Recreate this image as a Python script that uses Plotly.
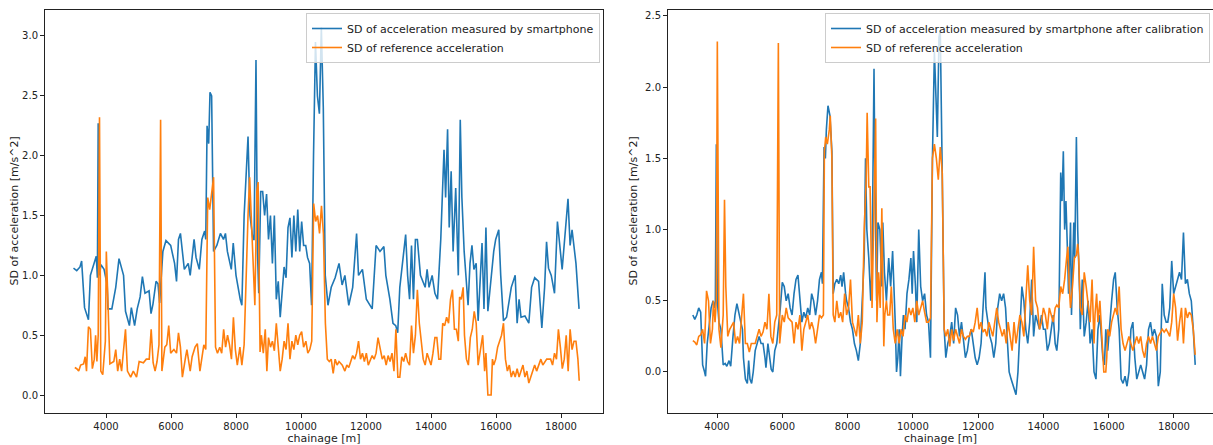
import plotly.graph_objects as go

# ---------------- Left panel data ----------------
left_phone_chainage = [
    3000, 3100, 3200, 3250, 3340, 3460, 3520, 3600, 3700, 3735,
    3760, 3800, 3843, 3940, 4036, 4060, 4180, 4300, 4400, 4540,
    4600, 4720, 4780, 4880, 4960, 5050, 5120, 5200, 5325, 5385,
    5445, 5540, 5600, 5650, 5750, 5845, 5990, 6110, 6170, 6230,
    6290, 6410, 6530, 6590, 6710, 6770, 6870, 6950, 7035, 7070,
    7110, 7160, 7200, 7250, 7310, 7410, 7520, 7615, 7675, 7735,
    7855, 7915, 8000, 8130, 8180, 8250, 8310, 8370, 8430, 8520,
    8555, 8615, 8660, 8700, 8760, 8820, 8880, 8940, 9000, 9060,
    9120, 9180, 9240, 9300, 9360, 9420, 9480, 9540, 9600, 9660,
    9720, 9780, 9840, 9900, 9960, 10020, 10080, 10145, 10200, 10265,
    10325, 10385, 10445, 10505, 10566, 10626, 10686, 10746, 10830, 10930,
    11050, 11170, 11265, 11350, 11470, 11590, 11710, 11770, 11890, 12010,
    12190, 12310, 12430, 12550, 12610, 12735, 12830, 12915, 12975, 13040,
    13160, 13220, 13280, 13340, 13400, 13460, 13520, 13580, 13675, 13760,
    13820, 13880, 13940, 14035, 14120, 14200, 14300, 14400, 14450, 14510,
    14560, 14620, 14680, 14760, 14840, 14900, 14950, 15020, 15080, 15140,
    15200, 15260, 15320, 15390, 15450, 15570, 15630, 15690, 15750, 15870,
    15930, 15990, 16085, 16145, 16230, 16325, 16470, 16590, 16650, 16710,
    16770, 16890, 17010, 17095, 17190, 17310, 17410, 17495, 17555, 17615,
    17700, 17800, 17855, 17890, 18035, 18130, 18215, 18280, 18340, 18460,
    18555,
]
left_phone_sd = [
    1.06, 1.04, 1.07, 1.12, 0.73, 0.63, 1.0, 1.08, 1.16, 0.98,
    2.27, 1.0, 1.09, 1.05, 0.92, 0.72, 0.72, 0.9, 1.14, 1.0,
    0.7, 0.58, 0.73, 0.58, 0.72, 0.82, 0.99, 0.85, 0.87, 0.68,
    0.76, 0.95, 0.93, 0.77, 1.2, 1.29, 1.25, 1.1, 0.95, 1.3,
    1.35, 1.05, 1.1, 1.0, 1.3, 1.15, 1.05, 1.3, 1.37, 1.3,
    2.25, 2.1, 2.53, 2.5, 1.2, 1.25, 1.35, 1.3, 1.35, 1.2,
    1.05, 1.27, 1.0, 0.8, 0.75, 1.5, 1.8, 2.16, 1.5, 1.3,
    1.3, 2.8, 1.2, 0.85, 1.7, 1.7, 1.5, 1.68, 1.3, 1.5,
    1.1, 1.5, 0.8, 0.95, 0.65, 0.9, 1.07, 0.98, 1.4, 1.48,
    1.15, 1.5, 1.2, 1.55, 1.2, 1.45, 1.25, 1.25, 1.15, 1.1,
    0.75, 2.0, 2.95, 2.5, 2.35, 3.07, 2.4, 1.0, 0.75, 0.9,
    0.98, 1.1, 0.92, 1.0, 0.75, 0.9, 1.35, 1.0, 1.05, 0.8,
    0.72, 1.25, 1.2, 1.24, 1.0, 0.8, 0.6, 0.58, 0.52, 0.9,
    1.2, 1.34, 1.0, 0.8, 1.25, 0.8, 1.3, 1.3, 1.0, 0.95,
    0.9, 1.05, 0.9, 1.0, 0.85, 0.8, 1.3, 2.05, 1.65, 2.22,
    1.4, 1.87, 1.2, 1.73, 1.0, 2.3, 1.65, 1.2, 1.0, 0.75,
    1.1, 1.25, 1.05, 1.1, 0.62, 1.27, 0.72, 1.4, 0.7, 1.07,
    1.2, 1.3, 1.38, 1.0, 0.62, 0.65, 0.9, 1.0, 0.6, 0.8,
    0.65, 0.66, 0.6, 0.9, 0.98, 0.95, 0.56, 0.9, 1.28, 1.06,
    1.0, 0.85, 1.3, 1.45, 1.05, 1.35, 1.64, 1.25, 1.38, 1.1,
    0.72,
]

left_ref_chainage = [
    3040, 3100, 3160, 3220, 3310, 3360, 3400, 3460, 3520, 3580,
    3640, 3680, 3720, 3760, 3800, 3840, 3900, 3980, 4010, 4060,
    4120, 4240, 4300, 4360, 4420, 4480, 4600, 4660, 4760, 4840,
    4940, 5020, 5150, 5240, 5330, 5390, 5450, 5510, 5570, 5630,
    5680, 5720, 5810, 5870, 5930, 5990, 6090, 6170, 6230, 6290,
    6350, 6450, 6490, 6590, 6650, 6740, 6810, 6890, 6950, 7010,
    7070, 7130, 7190, 7250, 7310, 7370, 7430, 7500, 7560, 7620,
    7680, 7740, 7800, 7860, 7920, 7980, 8040, 8120, 8180, 8250,
    8310, 8370, 8420, 8500, 8540, 8580, 8640, 8680, 8740, 8780,
    8840, 8900, 8950, 9000, 9060, 9120, 9180, 9240, 9300, 9360,
    9420, 9480, 9540, 9600, 9660, 9720, 9780, 9840, 9900, 9960,
    10020, 10080, 10150, 10210, 10270, 10330, 10390, 10450, 10510, 10570,
    10630, 10690, 10750, 10810, 10870, 10930, 10990, 11050, 11110, 11170,
    11270, 11350, 11410, 11470, 11590, 11650, 11710, 11770, 11830, 11890,
    11950, 12010, 12070, 12190, 12250, 12310, 12370, 12430, 12500, 12560,
    12620, 12680, 12740, 12800, 12860, 12920, 12980, 13040, 13100, 13160,
    13220, 13280, 13340, 13400, 13460, 13520, 13580, 13640, 13680, 13760,
    13820, 13880, 13940, 14000, 14060, 14120, 14180, 14240, 14300, 14360,
    14420, 14480, 14540, 14600, 14660, 14720, 14780, 14840, 14880, 14930,
    14990, 15030, 15090, 15150, 15210, 15270, 15330, 15390, 15450, 15510,
    15590, 15650, 15690, 15750, 15810, 15850, 15890, 15930, 15990, 16050,
    16110, 16170, 16230, 16290, 16350, 16410, 16470, 16530, 16590, 16650,
    16710, 16770, 16830, 16890, 16950, 17010, 17070, 17130, 17190, 17250,
    17320, 17380, 17440, 17500, 17560, 17620, 17680, 17740, 17800, 17860,
    17920, 17980, 18040, 18100, 18160, 18220, 18280, 18340, 18400, 18460,
    18520, 18560,
]
left_ref_sd = [
    0.23, 0.22, 0.2, 0.25, 0.26, 0.32, 0.2, 0.57, 0.55, 0.22,
    0.3, 0.5, 0.28, 0.5, 2.32, 0.2, 0.17, 0.45, 1.2, 0.8,
    0.26, 0.28, 0.38, 0.2, 0.3, 0.2, 0.55, 0.2, 0.15, 0.2,
    0.15, 0.28, 0.27, 0.3, 0.3, 0.55, 0.27, 0.2, 0.28, 0.42,
    2.3, 0.2, 0.4, 0.42, 0.58, 0.35, 0.38, 0.35, 0.52, 0.4,
    0.15, 0.32, 0.38, 0.2, 0.32, 0.4, 0.43, 0.2, 0.3, 0.42,
    0.38, 1.65, 1.55, 1.7, 1.82, 0.4, 0.35, 0.4, 0.35, 0.55,
    0.4, 0.5, 0.42, 0.3, 0.65, 0.38, 0.25, 0.4, 0.25, 0.42,
    1.0, 1.5, 1.82, 1.2, 1.0, 0.75, 1.7, 1.78, 0.36, 0.5,
    0.35, 0.55, 0.2, 0.48, 0.4, 0.45, 0.37, 0.6, 0.4, 0.2,
    0.3, 0.45, 0.38, 0.6, 0.3, 0.45, 0.38, 0.5, 0.42, 0.5,
    0.53, 0.4, 0.45, 0.35, 0.38, 0.45, 1.6, 1.45, 1.5, 1.35,
    1.58, 1.35, 0.6, 0.3, 0.28, 0.3, 0.18, 0.3, 0.25, 0.28,
    0.25, 0.2, 0.25, 0.23, 0.33, 0.3, 0.35, 0.45, 0.3, 0.35,
    0.28, 0.35, 0.25, 0.33, 0.3, 0.35, 0.48, 0.4, 0.3, 0.33,
    0.25, 0.33, 0.28, 0.35, 0.2, 0.55, 0.15, 0.15, 0.32, 0.28,
    0.35, 0.28, 0.25, 0.58, 0.35, 0.5, 0.88, 0.6, 0.5, 0.3,
    0.25, 0.35, 0.3, 0.25, 0.35, 0.48, 0.48, 0.3, 0.3, 0.6,
    0.58, 0.65, 0.6, 0.8, 0.88, 0.55, 0.55, 0.45, 0.82, 0.8,
    0.9, 0.5, 0.3, 0.25, 0.48, 0.55, 0.7, 0.6, 0.25, 0.35,
    0.5, 0.2, 0.35, 0.0, 0.0, 0.0, 0.3, 0.25, 0.3, 0.4,
    0.45, 0.5, 0.6, 0.3, 0.2, 0.25, 0.15, 0.2, 0.15, 0.22,
    0.15, 0.2, 0.25, 0.15, 0.2, 0.1, 0.15, 0.2, 0.25, 0.2,
    0.25, 0.3, 0.25, 0.28, 0.3, 0.3, 0.3, 0.25, 0.35, 0.3,
    0.55, 0.4, 0.22, 0.3, 0.5, 0.2, 0.55, 0.38, 0.45, 0.45,
    0.3, 0.12,
]

# ---------------- Right panel data ----------------
right_phone_chainage = [
    3260, 3320, 3380, 3440, 3500, 3560, 3620, 3650, 3700, 3770,
    3820, 3880, 3920, 3950, 3980, 4010, 4060, 4120, 4190, 4250,
    4300, 4370, 4420, 4490, 4550, 4610, 4670, 4730, 4780, 4810,
    4870, 4930, 4970, 5010, 5060, 5110, 5170, 5230, 5290, 5350,
    5410, 5470, 5500, 5560, 5610, 5660, 5710, 5770, 5830, 5880,
    5940, 6000, 6060, 6120, 6180, 6240, 6300, 6360, 6420, 6480,
    6540, 6600, 6660, 6720, 6780, 6840, 6900, 6960, 7020, 7080,
    7140, 7200, 7230, 7280, 7320, 7350, 7400, 7460, 7520, 7560,
    7610, 7670, 7730, 7790, 7830, 7880, 7940, 7970, 8030, 8090,
    8150, 8210, 8270, 8330, 8390, 8450, 8510, 8550, 8590, 8650,
    8710, 8750, 8810, 8840, 8890, 8930, 8990, 9050, 9080, 9130,
    9190, 9260, 9320, 9380, 9430, 9460, 9500, 9540, 9580, 9620,
    9670, 9710, 9760, 9820, 9880, 9940, 9980, 10020, 10080, 10120,
    10180, 10240, 10300, 10360, 10420, 10480, 10540, 10600, 10660, 10720,
    10750, 10800, 10840, 10900, 10960, 11010, 11070, 11130, 11190, 11250,
    11310, 11370, 11430, 11490, 11550, 11610, 11670, 11730, 11790, 11850,
    11910, 11970, 12030, 12090, 12150, 12210, 12240, 12300, 12360, 12420,
    12480, 12540, 12600, 12660, 12720, 12780, 12840, 12900, 12950, 13010,
    13050, 13100, 13160, 13220, 13280, 13340, 13400, 13460, 13520, 13580,
    13640, 13700, 13760, 13820, 13880, 13940, 14000, 14060, 14120, 14180,
    14240, 14300, 14360, 14410, 14470, 14530, 14570, 14610, 14650, 14690,
    14730, 14770, 14830, 14860, 14930, 14960, 15010, 15050, 15110, 15130,
    15190, 15250, 15310, 15370, 15430, 15490, 15550, 15610, 15670, 15730,
    15790, 15820, 15870, 15910, 15970, 16030, 16090, 16150, 16200, 16260,
    16320, 16380, 16440, 16500, 16560, 16620, 16680, 16740, 16800, 16860,
    16920, 16980, 17040, 17100, 17160, 17220, 17280, 17340, 17400, 17460,
    17520, 17580, 17640, 17700, 17760, 17810, 17870, 17930, 17990, 18050,
    18110, 18170, 18230, 18290, 18350, 18410, 18470, 18530, 18590, 18650,
]
right_phone_sd = [
    0.4, 0.37, 0.4, 0.45, 0.42, 0.05, 0.0, -0.03, 0.2, 0.35,
    0.45, 0.5, 0.45, 0.5, 1.6, 0.5, 0.35, 0.3, 0.05, 0.06,
    0.04, 0.08, 0.04, 0.25, 0.4, 0.48, 0.4, 0.35, 0.3, 0.1,
    -0.05, -0.08, 0.08, -0.05, -0.08, 0.0, 0.15, 0.2, 0.25, 0.2,
    0.2, 0.1, 0.03, 0.2, 0.1, 0.02, 0.0, 0.15, 0.2, 0.3,
    0.45, 0.63, 0.6, 0.5, 0.55, 0.45, 0.4, 0.55, 0.65, 0.68,
    0.5, 0.35, 0.42, 0.38, 0.45, 0.4, 0.55, 0.5, 0.4, 0.5,
    0.65, 0.7, 0.62, 1.58, 1.5, 1.7, 1.87, 1.8, 1.55, 0.55,
    0.62, 0.65, 0.62, 0.68, 0.6, 0.7, 0.55, 0.5, 0.45, 0.35,
    0.3, 0.2, 0.15, 0.08, 0.2, 0.5, 0.8, 1.5, 1.0, 0.8,
    0.5, 0.75, 2.13, 1.3, 0.5, 1.05, 1.0, 0.6, 1.05, 0.7,
    0.5, 0.8, 0.6, 0.85, 0.6, 0.35, 0.0, 0.1, 0.3, -0.03,
    0.25, 0.4, 0.3, 0.55, 0.65, 0.8, 0.55, 0.85, 0.6, 0.35,
    1.0, 0.6, 0.5, 0.55, 0.4, 0.35, 0.1, 1.5, 2.25, 1.9,
    1.65, 2.35, 2.4, 1.4, 0.3, 0.1, 0.2, 0.25, 0.35, 0.2,
    0.45, 0.4, 0.25, 0.35, 0.2, 0.1, 0.15, 0.25, 0.3, 0.2,
    0.1, 0.05, 0.1, 0.2, 0.45, 0.7, 0.45, 0.35, 0.25, 0.2,
    0.1, 0.2, 0.45, 0.55, 0.5, 0.55, 0.45, 0.2, 0.0, -0.05,
    -0.08, -0.12, -0.16, 0.0, 0.3, 0.6, 0.5, 0.3, 0.2, 0.35,
    0.65, 0.25, 0.4, 0.35, 0.3, 0.4, 0.3, 0.3, 0.15, 0.2,
    0.3, 0.4, 0.2, 0.15, 0.3, 1.4, 1.2, 1.55, 1.0, 1.2,
    0.9, 0.55, 1.05, 0.4, 1.05, 0.8, 1.65, 1.0, 0.55, 0.3,
    0.65, 0.25, 0.35, 0.5, 0.2, 0.3, 0.0, -0.05, 0.3, 0.4,
    0.2, 0.1, 0.05, 0.3, 0.15, 0.35, 0.5, 0.65, 0.7, 0.45,
    0.3, -0.05, -0.08, -0.03, -0.1, 0.0, 0.3, 0.35, 0.1, -0.05,
    0.0, 0.05, 0.0, -0.05, 0.05, 0.3, 0.35, 0.25, 0.3, 0.25,
    -0.1, 0.0, 0.62, 0.4, 0.35, 0.35, 0.45, 0.78, 0.55, 0.6,
    0.65, 0.7, 0.65, 0.98, 0.62, 0.65, 0.55, 0.5, 0.3, 0.05,
]

right_ref_chainage = [
    3260, 3320, 3380, 3440, 3500, 3560, 3620, 3680, 3740, 3800,
    3860, 3890, 3940, 3980, 4010, 4060, 4120, 4190, 4230, 4270,
    4330, 4390, 4510, 4570, 4630, 4690, 4810, 4870, 4930, 4990,
    5050, 5170, 5290, 5350, 5410, 5470, 5530, 5590, 5650, 5710,
    5770, 5830, 5880, 5920, 6000, 6060, 6120, 6180, 6300, 6360,
    6420, 6480, 6540, 6600, 6660, 6720, 6780, 6840, 6900, 6960,
    7020, 7080, 7140, 7200, 7260, 7290, 7330, 7380, 7440, 7470,
    7520, 7560, 7610, 7670, 7730, 7790, 7850, 7910, 7970, 8030,
    8090, 8150, 8210, 8270, 8330, 8390, 8450, 8510, 8570, 8600,
    8650, 8690, 8750, 8810, 8860, 8900, 8950, 9000, 9050, 9110,
    9140, 9190, 9230, 9290, 9340, 9400, 9460, 9520, 9580, 9640,
    9700, 9760, 9820, 9880, 9940, 10000, 10060, 10120, 10180, 10240,
    10300, 10360, 10420, 10480, 10540, 10600, 10660, 10720, 10780, 10840,
    10900, 10960, 11010, 11070, 11130, 11190, 11250, 11310, 11370, 11430,
    11490, 11550, 11610, 11670, 11730, 11790, 11850, 11910, 11970, 12030,
    12090, 12150, 12210, 12270, 12330, 12390, 12450, 12510, 12570, 12630,
    12690, 12740, 12800, 12860, 12920, 12980, 13040, 13100, 13160, 13220,
    13280, 13340, 13400, 13460, 13520, 13580, 13640, 13700, 13760, 13820,
    13880, 13940, 14000, 14060, 14120, 14180, 14240, 14300, 14360, 14410,
    14470, 14530, 14590, 14650, 14710, 14750, 14790, 14830, 14890, 14950,
    15010, 15050, 15080, 15130, 15190, 15250, 15310, 15370, 15430, 15490,
    15550, 15580, 15630, 15670, 15730, 15790, 15820, 15850, 15910, 15940,
    15970, 16030, 16090, 16150, 16200, 16260, 16320, 16380, 16440, 16500,
    16560, 16620, 16680, 16740, 16800, 16860, 16920, 16980, 17040, 17100,
    17160, 17220, 17280, 17340, 17400, 17460, 17520, 17580, 17640, 17700,
    17760, 17810, 17870, 17930, 17990, 18050, 18110, 18170, 18230, 18290,
    18350, 18410, 18470, 18530, 18590, 18650,
]
right_ref_sd = [
    0.22, 0.21, 0.19, 0.25, 0.26, 0.3, 0.2, 0.57, 0.5, 0.2,
    0.3, 0.5, 0.35, 0.5, 2.32, 0.3, 0.17, 0.4, 1.21, 0.6,
    0.25, 0.3, 0.35, 0.2, 0.25, 0.2, 0.55, 0.2, 0.2, 0.14,
    0.2, 0.2, 0.3, 0.25, 0.28, 0.35, 0.3, 0.55, 0.25, 0.2,
    0.35, 0.4, 2.31, 0.2, 0.4, 0.35, 0.45, 0.38, 0.35, 0.2,
    0.35, 0.3, 0.4, 0.15, 0.3, 0.35, 0.4, 0.3, 0.35, 0.3,
    0.2, 0.3, 0.4, 0.38, 0.4, 1.55, 1.65, 1.6, 1.7, 1.8,
    1.5, 0.4, 0.35, 0.5, 0.38, 0.42, 0.35, 0.55, 0.4, 0.45,
    0.65, 0.35, 0.3, 0.25, 0.4, 0.2, 0.35, 1.0, 1.35, 1.82,
    1.3, 1.3, 0.45, 1.3, 1.78, 0.35, 0.7, 0.45, 1.15, 0.18,
    0.4, 0.5, 0.4, 0.4, 0.6, 0.3, 0.2, 0.3, 0.2, 0.3,
    0.25, 0.4, 0.35, 0.45, 0.4, 0.45, 0.35, 0.5, 0.4, 0.45,
    0.5, 0.42, 0.35, 0.35, 0.38, 1.5, 1.6, 1.5, 1.35, 1.58,
    1.4, 0.3, 0.25, 0.3, 0.18, 0.3, 0.22, 0.3, 0.25, 0.2,
    0.3, 0.25, 0.23, 0.25, 0.25, 0.3, 0.28, 0.35, 0.45, 0.3,
    0.35, 0.28, 0.3, 0.25, 0.35, 0.3, 0.25, 0.35, 0.45, 0.35,
    0.3, 0.25, 0.3, 0.2, 0.35, 0.25, 0.15, 0.35, 0.2, 0.3,
    0.4, 0.35, 0.25, 0.5, 0.75, 0.5, 0.4, 0.88, 0.5, 0.45,
    0.3, 0.35, 0.45, 0.4, 0.3, 0.45, 0.4, 0.35, 0.45, 0.47,
    0.45, 0.6, 0.55, 0.65, 0.8, 0.88, 0.6, 0.45, 0.6, 0.8,
    0.82, 0.9, 0.8, 0.45, 0.4, 0.7, 0.6, 0.45, 0.35, 0.65,
    0.2, 0.4, 0.55, 0.35, 0.5, 0.25, 0.1, 0.0, 0.0, 0.1,
    0.3, 0.25, 0.35, 0.4, 0.45, 0.4, 0.6, 0.3, 0.2, 0.15,
    0.2, 0.25, 0.2, 0.15, 0.2, 0.25, 0.2, 0.25, 0.15, 0.1,
    0.2, 0.25, 0.2, 0.25, 0.2, 0.15, 0.25, 0.28, 0.3, 0.28,
    0.3, 0.28, 0.25, 0.35, 0.55, 0.45, 0.22, 0.35, 0.45, 0.2,
    0.45, 0.38, 0.42, 0.4, 0.3, 0.12,
]

for a, b in [(left_phone_chainage, left_phone_sd), (left_ref_chainage, left_ref_sd),
             (right_phone_chainage, right_phone_sd), (right_ref_chainage, right_ref_sd)]:
    assert len(a) == len(b), (len(a), len(b))

xticks = [4000, 6000, 8000, 10000, 12000, 14000, 16000, 18000]
xtick_labels = ["4000", "6000", "8000", "10000", "12000", "14000", "16000", "18000"]
left_yticks = [0.0, 0.5, 1.0, 1.5, 2.0, 2.5, 3.0]
right_yticks = [0.0, 0.5, 1.0, 1.5, 2.0, 2.5]
y_title = "SD of acceleration [m/s^2]"
x_title = "chainage [m]"

BLUE = "#1f77b4"
ORANGE = "#ff7f0e"
FONT = "DejaVu Sans"
FS = 11

W, H = 1213, 445

fig = go.Figure()
fig.add_trace(go.Scatter(x=left_phone_chainage, y=left_phone_sd, mode="lines",
                         line=dict(color=BLUE, width=1.6),
                         name="SD of acceleration measured by smartphone",
                         xaxis="x", yaxis="y", legend="legend"))
fig.add_trace(go.Scatter(x=left_ref_chainage, y=left_ref_sd, mode="lines",
                         line=dict(color=ORANGE, width=1.6),
                         name="SD of reference acceleration",
                         xaxis="x", yaxis="y", legend="legend"))
fig.add_trace(go.Scatter(x=right_phone_chainage, y=right_phone_sd, mode="lines",
                         line=dict(color=BLUE, width=1.6),
                         name="SD of acceleration measured by smartphone after calibration",
                         xaxis="x2", yaxis="y2", legend="legend2"))
fig.add_trace(go.Scatter(x=right_ref_chainage, y=right_ref_sd, mode="lines",
                         line=dict(color=ORANGE, width=1.6),
                         name="SD of reference acceleration",
                         xaxis="x2", yaxis="y2", legend="legend2"))

tfont = dict(family=FONT, size=FS, color="#222")
tickfont = dict(family=FONT, size=10, color="#222")
axis_common = dict(showgrid=False, zeroline=False, showline=True, mirror=True,
                   linecolor="#222", linewidth=1, ticks="outside", ticklen=4,
                   tickcolor="#222", tickfont=tickfont)

y_dom = [(H - 413) / H, (H - 10) / H]
y_mid = (y_dom[0] + y_dom[1]) / 2

fig.update_layout(
    width=W, height=H,
    margin=dict(l=0, r=0, t=0, b=0),
    paper_bgcolor="white", plot_bgcolor="white",
    font=tfont,
    xaxis=dict(domain=[45 / W, 603 / W], range=[2123, 19292],
               tickvals=xticks, ticktext=xtick_labels,
               title=dict(text=x_title, standoff=1, font=tfont),
               anchor="y", **axis_common),
    yaxis=dict(domain=y_dom, range=[-0.150, 3.217], tickvals=left_yticks,
               tickformat=".1f", anchor="x", **axis_common),
    xaxis2=dict(domain=[668 / W, 1.0], range=[2499, 19195],
                tickvals=xticks, ticktext=xtick_labels,
                title=dict(text=x_title, standoff=1, font=tfont),
                anchor="y2", **axis_common),
    yaxis2=dict(domain=y_dom, range=[-0.288, 2.542], tickvals=right_yticks,
                tickformat=".1f", anchor="x2", **axis_common),
    legend=dict(x=600 / W, y=(H - 13) / H, xanchor="right", yanchor="top",
                bgcolor="rgba(255,255,255,0.8)", bordercolor="#cccccc", borderwidth=1,
                font=tfont, itemwidth=30, tracegroupgap=0),
    legend2=dict(x=1210 / W, y=(H - 13) / H, xanchor="right", yanchor="top",
                 bgcolor="rgba(255,255,255,0.8)", bordercolor="#cccccc", borderwidth=1,
                 font=tfont, itemwidth=30, tracegroupgap=0),
    annotations=[
        dict(text=y_title, textangle=-90, x=14 / W, y=y_mid, xref="paper", yref="paper",
             xanchor="center", yanchor="middle", showarrow=False, font=tfont),
        dict(text=y_title, textangle=-90, x=633 / W, y=y_mid, xref="paper", yref="paper",
             xanchor="center", yanchor="middle", showarrow=False, font=tfont),
    ],
)

fig.write_html("out.html")
